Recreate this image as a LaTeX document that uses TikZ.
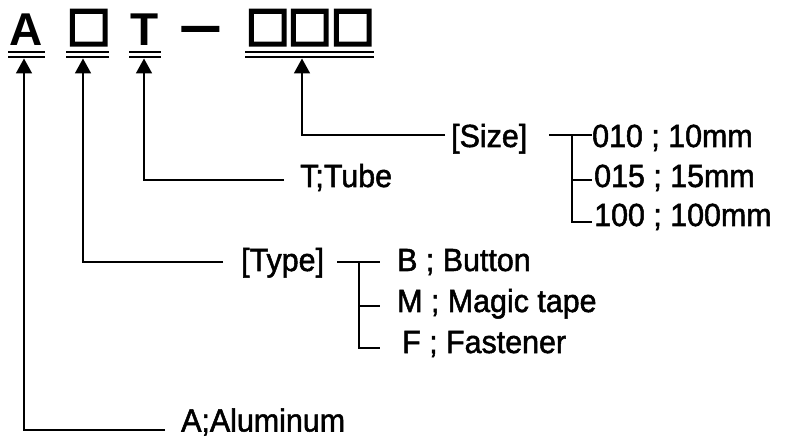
\documentclass[tikz,border=0pt]{standalone}
\usepackage{fontspec}
\setmainfont{Liberation Sans}
\newfontfamily\labfont[FakeBold=1.6,FakeStretch=0.95]{Liberation Sans}
\newfontfamily\cjkfont[FakeBold=8]{Noto Sans CJK JP}
\usetikzlibrary{arrows.meta}
\begin{document}
\begin{tikzpicture}[x=1pt,y=-1pt,
  conn/.style={line width=1.8pt},
  arr/.style={line width=1.8pt,-{Triangle[width=16pt,length=15pt]}},
  lab/.style={anchor=base west,inner sep=0pt,font=\labfont\fontsize{32}{32}\selectfont},
  head/.style={anchor=base west,inner sep=0pt,font=\bfseries\fontsize{46}{46}\selectfont},
  headbox/.style={anchor=base west,inner sep=0pt,font=\cjkfont\fontsize{43}{43}\selectfont},
  ul/.style={line width=2pt}]
\useasboundingbox (0,0) rectangle (787,438);
% header
\node[head] (hA) at (9,46) {A};
\node[headbox] (hB1) at (67,44) {□};
\node[head] (hT) at (130,46) {T};
\node[headbox] (hD) at (181,41) {—};
\node[headbox] (hS1) at (246,44) {□};
\node[headbox] (hS2) at (288,44) {□};
\node[headbox] (hS3) at (331,44) {□};
% double underlines
\foreach \a/\b in {8/45,66/109,129/161,245/374}{
  \draw[ul] (\a,52) -- (\b,52);
  \draw[ul] (\a,57) -- (\b,57);
}
% arrow tips (under underlines)
\coordinate (tA) at (24,58.5);
\coordinate (tB) at (83,58.5);
\coordinate (tT) at (144,58.5);
\coordinate (tS) at (302,58.5);
% labels
\node[lab] (alu) at (181,431.5) {A;Aluminum};
\node[lab] (type) at (241,271) {[Type]};
\node[lab] (tb) at (397,271) {B ; Button};
\node[lab] (tm) at (397,312) {M ; Magic tape};
\node[lab] (tf) at (402,353) {F ; Fastener};
\node[lab] (tube) at (300,187) {T;Tube};
\node[lab] (size) at (451,147) {[Size]};
\node[lab] (s1) at (592,147) {010 ; 10mm};
\node[lab] (s2) at (594,187) {015 ; 15mm};
\node[lab] (s3) at (594,226) {100 ; 100mm};
% connector end points
\coordinate (eA) at (165,430);
\coordinate (eB) at (223,262);
\coordinate (eT) at (284,180);
\coordinate (eS) at (445,135);
\draw[arr] (eA) -| (tA);
\draw[arr] (eB) -| (tB);
\draw[arr] (eT) -| (tT);
\draw[arr] (eS) -| (tS);
% type branches
\coordinate (ty0) at (337,262);
\coordinate (tyj) at (359,262);
\coordinate (ty1) at (380,262);
\coordinate (ty2) at (380,306);
\coordinate (ty3) at (380,348);
\draw[conn] (ty0) -- (ty1);
\draw[conn] (tyj) |- (ty3);
\draw[conn] (tyj |- ty2) -- (ty2);
% size branches
\coordinate (sz0) at (549,135);
\coordinate (szj) at (572,135);
\coordinate (sz1) at (592,135);
\coordinate (sz2) at (592,180);
\coordinate (sz3) at (592,222);
\draw[conn] (sz0) -- (sz1);
\draw[conn] (szj) |- (sz3);
\draw[conn] (szj |- sz2) -- (sz2);
\end{tikzpicture}
\end{document}
